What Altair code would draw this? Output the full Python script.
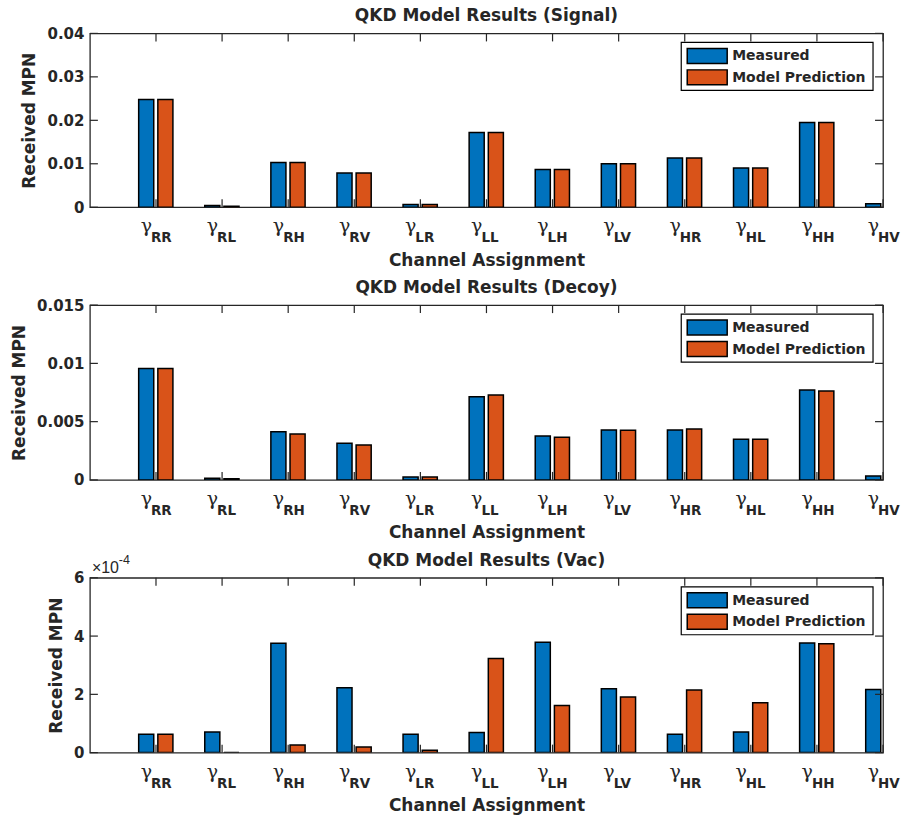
import altair as alt
import pandas as pd

# ---------------- data ----------------
SUBS = ["RR", "RL", "RH", "RV", "LR", "LL", "LH", "LV", "HR", "HL", "HH", "HV"]
SERIES = ["Measured", "Model Prediction"]
COLORS = ["#0072BD", "#D95319"]

SIGNAL_MEASURED = [0.0248, 0.0004, 0.0103, 0.0079, 0.0006, 0.0172, 0.0087, 0.0100, 0.0113, 0.0090, 0.0195, 0.0008]
SIGNAL_MODEL = [0.0248, 0.0002, 0.0103, 0.0079, 0.0006, 0.0172, 0.0087, 0.0100, 0.0113, 0.0090, 0.0195, 0.0008]

DECOY_MEASURED = [0.00957, 0.00015, 0.00414, 0.00314, 0.00025, 0.00714, 0.00377, 0.00429, 0.00429, 0.00349, 0.00771, 0.00034]
DECOY_MODEL = [0.00957, 0.00010, 0.00394, 0.00300, 0.00025, 0.00729, 0.00366, 0.00426, 0.00437, 0.00349, 0.00763, 0.00030]

VAC_MEASURED = [0.63e-4, 0.71e-4, 3.75e-4, 2.23e-4, 0.63e-4, 0.69e-4, 3.79e-4, 2.19e-4, 0.63e-4, 0.71e-4, 3.76e-4, 2.17e-4]
VAC_MODEL = [0.63e-4, 0.0, 0.26e-4, 0.19e-4, 0.08e-4, 3.23e-4, 1.62e-4, 1.91e-4, 2.15e-4, 1.71e-4, 3.74e-4, 0.0]

SIGNAL_TICKS = [0, 0.01, 0.02, 0.03, 0.04]
DECOY_TICKS = [0, 0.005, 0.01, 0.015]
VAC_TICKS = [0, 2e-4, 4e-4, 6e-4]

TITLES = ["QKD Model Results (Signal)", "QKD Model Results (Decoy)", "QKD Model Results (Vac)"]

# ---------------- style ----------------
TXT = "#262626"
FONT = "DejaVu Sans"
W = 794
TL = 8  # inward tick length


def panel(title, meas, model, ymax, yticks, H, label_expr, exponent=False):
    rows = []
    for i, s in enumerate(SUBS):
        rows.append({"sub": s, "idx": i + 1, "series": SERIES[0], "value": meas[i]})
        rows.append({"sub": s, "idx": i + 1, "series": SERIES[1], "value": model[i]})
    df = pd.DataFrame(rows)
    cats = pd.DataFrame({"sub": SUBS, "idx": list(range(1, len(SUBS) + 1))})
    ytk = pd.DataFrame({"v": yticks})

    xscale = alt.Scale(domain=[0, 12], nice=False, zero=False)
    yscale = alt.Scale(domain=[0, ymax], nice=False)
    xaxis = alt.Axis(
        title="Channel Assignment", labels=False, ticks=False, domain=False, grid=False,
        titleFont=FONT, titleFontSize=17, titleFontWeight="bold", titleColor=TXT,
        titleBaseline="alphabetic", titleY=58)
    yaxis = alt.Axis(
        values=yticks, title="Received MPN", labelExpr=label_expr,
        ticks=False, domain=False, grid=False, labelFlush=False,
        labelFont=FONT, labelFontSize=15, labelFontWeight="bold", labelColor=TXT,
        labelPadding=6, titleFont=FONT, titleFontSize=17, titleFontWeight="bold",
        titleColor=TXT, titlePadding=8)

    def X(f):
        return alt.X(f, scale=xscale, axis=xaxis, title="Channel Assignment")

    def Y(f):
        return alt.Y(f, scale=yscale, axis=yaxis, title="Received MPN")

    bars = alt.Chart(df).transform_calculate(
        x0=f"datum.idx + (datum.series == '{SERIES[0]}' ? -0.262 : 0.028)",
        x1="datum.x0 + 0.228",
    ).mark_rect(clip=True, stroke="black", strokeWidth=1.5).encode(
        x=X("x0:Q"),
        x2="x1:Q",
        y=Y("value:Q"),
        y2=alt.datum(0),
        color=alt.Color("series:N", scale=alt.Scale(domain=SERIES, range=COLORS), legend=None),
    )

    xt_top = alt.Chart(cats).mark_rule(color=TXT, strokeWidth=1.2).encode(
        x=X("idx:Q"), y=alt.value(0), y2=alt.value(TL))
    xt_bot = alt.Chart(cats).mark_rule(color=TXT, strokeWidth=1.2).encode(
        x=X("idx:Q"), y=alt.value(H), y2=alt.value(H - TL))
    yt_left = alt.Chart(ytk).mark_rule(color=TXT, strokeWidth=1.2).encode(
        y=Y("v:Q"), x=alt.value(0), x2=alt.value(TL))
    yt_right = alt.Chart(ytk).mark_rule(color=TXT, strokeWidth=1.2).encode(
        y=Y("v:Q"), x=alt.value(W - TL), x2=alt.value(W))

    gamma = alt.Chart(cats).mark_text(
        text="γ", font="DejaVu Serif", fontSize=19, align="right",
        baseline="alphabetic", dx=-4, color=TXT).encode(
        x=X("idx:Q"), y=alt.value(H + 25))
    sub = alt.Chart(cats).mark_text(
        font=FONT, fontSize=13.5, fontWeight="bold", align="left",
        baseline="alphabetic", dx=-5, color=TXT).encode(
        x=X("idx:Q"), y=alt.value(H + 35), text="sub:N")

    ttl = alt.Chart(pd.DataFrame({"t": [title]})).mark_text(
        font=FONT, fontSize=17, fontWeight="bold", align="center",
        baseline="alphabetic", color=TXT).encode(
        x=alt.value(W / 2), y=alt.value(-12), text="t:N")

    layers = [bars, xt_top, xt_bot, yt_left, yt_right, gamma, sub, ttl]

    # legend box
    layers.append(alt.Chart(pd.DataFrame({"series": SERIES[:1]})).mark_rect(
        fill="white", stroke="black", strokeWidth=1.2).encode(
        x=alt.value(592), x2=alt.value(784), y=alt.value(9), y2=alt.value(57)))
    for k, (s, c) in enumerate(zip(SERIES, COLORS)):
        one = pd.DataFrame({"series": [s]})
        y0 = 15 + 21.5 * k
        layers.append(alt.Chart(one).mark_rect(
            fill=c, stroke="black", strokeWidth=1.5).encode(
            x=alt.value(598), x2=alt.value(638), y=alt.value(y0), y2=alt.value(y0 + 15)))
        layers.append(alt.Chart(one).mark_text(
            font=FONT, fontSize=14, fontWeight="bold", align="left",
            baseline="middle", color=TXT).encode(
            x=alt.value(643), y=alt.value(y0 + 8), text="series:N"))

    if exponent:
        e1 = pd.DataFrame({"t": ["×10"]})
        e2 = pd.DataFrame({"t": ["-4"]})
        layers.append(alt.Chart(e1).mark_text(
            font="Liberation Sans", fontSize=16, align="left", baseline="alphabetic",
            color=TXT).encode(x=alt.value(2), y=alt.value(-5), text="t:N"))
        layers.append(alt.Chart(e2).mark_text(
            font="Liberation Sans", fontSize=12.5, align="left", baseline="alphabetic",
            color=TXT).encode(x=alt.value(29), y=alt.value(-14), text="t:N"))

    return alt.layer(*layers).properties(width=W, height=H)


p1 = panel(TITLES[0], SIGNAL_MEASURED, SIGNAL_MODEL, 0.04,
           SIGNAL_TICKS, 174, "format(datum.value, '~g')")
p2 = panel(TITLES[1], DECOY_MEASURED, DECOY_MODEL, 0.015,
           DECOY_TICKS, 175, "format(datum.value, '~g')")
p3 = panel(TITLES[2], VAC_MEASURED, VAC_MODEL, 6e-4,
           VAC_TICKS, 175, "format(datum.value * 10000, '~g')", exponent=True)

chart = alt.vconcat(p1, p2, p3, spacing=9).properties(
    padding={"left": 9, "top": 6, "right": 0, "bottom": 0},
    background="white",
).configure_view(stroke=TXT, strokeWidth=1.3)

chart.save("out.html", embed_options={"renderer": "svg", "actions": False})
